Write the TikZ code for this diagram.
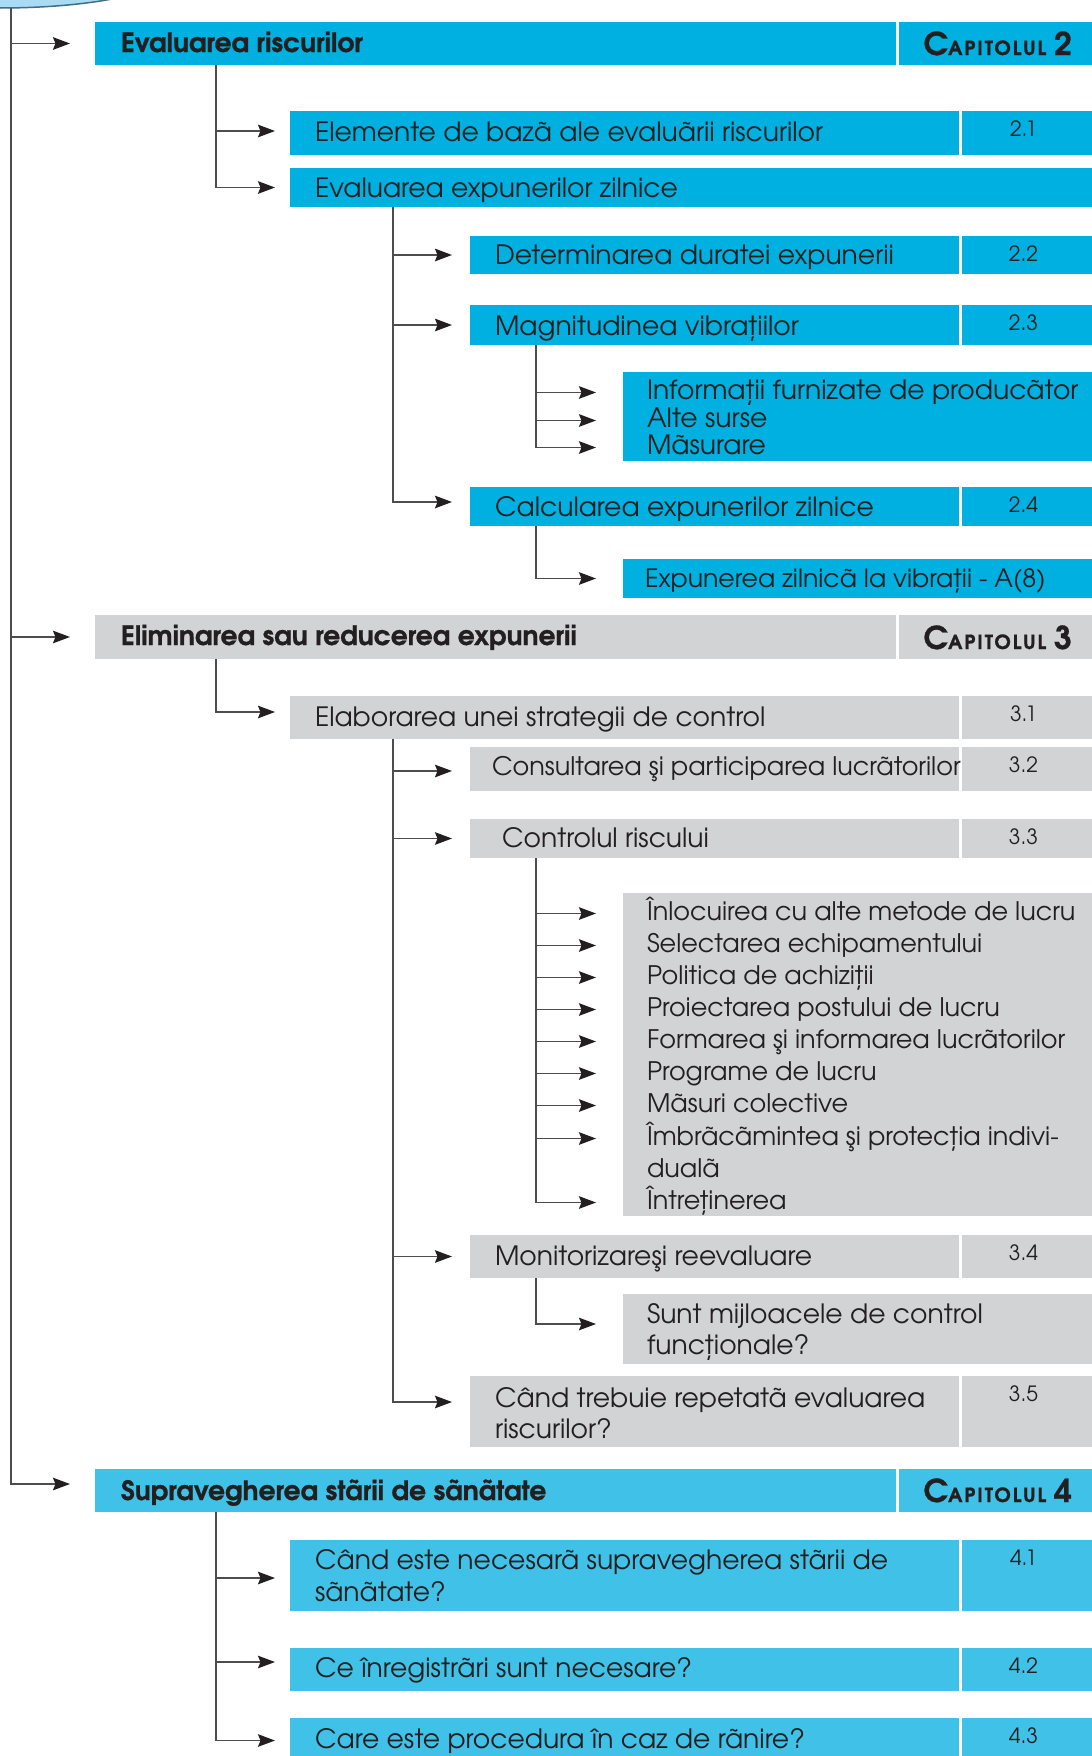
\documentclass[tikz,border=0pt]{standalone}
\usepackage{fontspec}
\setmainfont{texgyreadventor}[Extension=.otf,UprightFont=*-regular,BoldFont=*-bold,ItalicFont=*-italic,BoldItalicFont=*-bolditalic,BoldFeatures={FakeBold=0.8}]
\usetikzlibrary{arrows.meta}
\definecolor{cyanA}{HTML}{00B0E0}
\definecolor{cyanB}{HTML}{40C1E7}
\definecolor{grayA}{HTML}{D1D3D4}
\definecolor{ink}{HTML}{231F20}
\definecolor{linec}{HTML}{4D4D4F}
\definecolor{ellfill}{HTML}{A9DCF2}
\definecolor{elldraw}{HTML}{3F6E8C}
\newcommand\chaplabel[1]{{\bfseries\fontsize{31.5}{31.5}\selectfont C{\addfontfeature{LetterSpace=10}\fontsize{19.5}{19.5}\selectfont APITOLUL}\hspace{8pt}\fontsize{31.5}{31.5}\selectfont #1}}
\begin{document}
\begin{tikzpicture}[x=1pt,y=-1pt,
  bx/.style 2 args={inner sep=0pt, outer sep=0pt, anchor=north west, minimum width=#1pt, minimum height=#2pt},
  txt/.style={inner sep=0pt, outer sep=0pt, text=ink, font=\fontsize{26.6}{31}\selectfont, anchor=base west},
  hd/.style={txt, font=\bfseries\fontsize{26.6}{31}\selectfont},
  lst/.style={txt, font=\fontsize{25.5}{31}\selectfont, text height=19pt, text depth=6pt},
  num/.style={inner sep=0pt, text=ink, font=\fontsize{21}{21}\selectfont},
  chap/.style={inner sep=0pt, text=ink, anchor=base east},
  conn/.style={draw=linec, line width=1.8pt, -{Stealth[length=17pt,width=12.5pt,inset=2.5pt,color=ink]}},
]
\useasboundingbox (0,0) rectangle (1092,1756);
\fill[white] (0,0) rectangle (1092,1756);
% top ellipse fragment
\fill[ellfill] (0,0) -- (0,8) .. controls (40,8) and (80,5) .. (112,-1) -- cycle;
\draw[elldraw, line width=1.5pt] (0,8) .. controls (40,8) and (80,5) .. (112,-1);

% ---------- boxes ----------
% section 1
\node[bx={801}{43}, fill=cyanA] (r1) at (95,22) {};
\node[bx={193}{43}, fill=cyanA] (c1) at (899,22) {};
\node[bx={669}{44}, fill=cyanA] (r2) at (290,111) {};
\node[bx={131}{44}, fill=cyanA] (nb2) at (962,111) {};
\node[bx={810}{39}, fill=cyanA] (r3) at (290,168) {};
\node[bx={489}{38}, fill=cyanA] (r4) at (470,236) {};
\node[bx={131}{38}, fill=cyanA] (nb4) at (962,236) {};
\node[bx={489}{40}, fill=cyanA] (r5) at (470,305) {};
\node[bx={131}{40}, fill=cyanA] (nb5) at (962,305) {};
\node[bx={480}{89}, fill=cyanA] (r6) at (623,372) {};
\node[bx={489}{39}, fill=cyanA] (r7) at (470,487) {};
\node[bx={131}{39}, fill=cyanA] (nb7) at (962,487) {};
\node[bx={480}{39}, fill=cyanA] (r8) at (623,559) {};
% section 2
\node[bx={801}{44}, fill=grayA] (r9) at (95,615) {};
\node[bx={193}{44}, fill=grayA] (c9) at (899,615) {};
\node[bx={669}{43}, fill=grayA] (r10) at (290,696) {};
\node[bx={131}{43}, fill=grayA] (nb10) at (962,696) {};
\node[bx={489}{44}, fill=grayA] (r11) at (470,747) {};
\node[bx={131}{44}, fill=grayA] (nb11) at (962,747) {};
\node[bx={489}{39}, fill=grayA] (r12) at (470,819) {};
\node[bx={131}{39}, fill=grayA] (nb12) at (962,819) {};
\node[bx={480}{323}, fill=grayA] (r13) at (623,893) {};
\node[bx={489}{43}, fill=grayA] (r14) at (470,1235) {};
\node[bx={131}{43}, fill=grayA] (nb14) at (962,1235) {};
\node[bx={480}{70}, fill=grayA] (r15) at (623,1294) {};
\node[bx={489}{71}, fill=grayA] (r16) at (470,1376) {};
\node[bx={131}{71}, fill=grayA] (nb16) at (962,1376) {};
% section 3
\node[bx={801}{43}, fill=cyanB] (r17) at (95,1469) {};
\node[bx={193}{43}, fill=cyanB] (c17) at (899,1469) {};
\node[bx={669}{71}, fill=cyanB] (r18) at (290,1540) {};
\node[bx={131}{71}, fill=cyanB] (nb18) at (962,1540) {};
\node[bx={669}{43}, fill=cyanB] (r19) at (290,1648) {};
\node[bx={131}{43}, fill=cyanB] (nb19) at (962,1648) {};
\node[bx={669}{45}, fill=cyanB] (r20) at (290,1718) {};
\node[bx={131}{45}, fill=cyanB] (nb20) at (962,1718) {};

% ---------- texts ----------
\node[hd] (t1) at (121,52) {Evaluarea riscurilor};
\node[chap] (k1) at ([xshift=-20pt,yshift=10pt]c1.south east) {\chaplabel{2}};
\node[txt] (t2) at (315,141) {Elemente de bazã ale evaluãrii riscurilor};
\node[txt] (t3) at (315,197) {Evaluarea expunerilor zilnice};
\node[txt] (t4) at (495,264) {Determinarea duratei expunerii};
\node[txt] (t5) at (495,335) {Magnitudinea vibrațiilor};
\node[lst, font=\fontsize{26.6}{31}\selectfont] (i1) at (647,399) {Informații furnizate de producãtor};
\node[lst, font=\fontsize{26.6}{31}\selectfont] (i2) at (647,427) {Alte surse};
\node[lst, font=\fontsize{26.6}{31}\selectfont] (i3) at (647,454) {Mãsurare};
\node[txt] (t7) at (495,516) {Calcularea expunerilor zilnice};
\node[txt, font=\fontsize{25.2}{31}\selectfont] (t8) at (645,587) {Expunerea zilnicã la vibrații - A(8)};

\node[hd] (t9) at (121,645) {Eliminarea sau reducerea expunerii};
\node[chap] (k9) at ([xshift=-20pt,yshift=10pt]c9.south east) {\chaplabel{3}};
\node[txt] (t10) at (315,726) {Elaborarea unei strategii de control};
\node[txt, font=\fontsize{25.5}{31}\selectfont] (t11) at (492,775) {Consultarea şi participarea lucrãtorilor};
\node[txt] (t12) at (502,847) {Controlul riscului};
\node[lst] (m1) at (647,920) {Înlocuirea cu alte metode de lucru};
\node[lst] (m2) at (647,952) {Selectarea echipamentului};
\node[lst] (m3) at (647,984) {Politica de achiziții};
\node[lst] (m4) at (647,1016) {Proiectarea postului de lucru};
\node[lst] (m5) at (647,1048) {Formarea şi informarea lucrãtorilor};
\node[lst] (m6) at (647,1080) {Programe de lucru};
\node[lst] (m7) at (647,1112) {Mãsuri colective};
\node[lst] (m8) at (647,1145) {Îmbrãcãmintea şi protecția indivi-};
\node[lst] (m9) at (647,1177) {dualã};
\node[lst] (m10) at (647,1209) {Întreținerea};
\node[txt] (t14) at (495,1265) {Monitorizareşi reevaluare};
\node[txt] (u1) at (647,1323) {Sunt mijloacele de control};
\node[txt] (u2) at (647,1354) {funcționale?};
\node[txt] (v1) at (495,1407) {Când trebuie repetatã evaluarea};
\node[txt] (v2) at (495,1438) {riscurilor?};

\node[hd] (t17) at (121,1500) {Supravegherea stãrii de sãnãtate};
\node[chap] (k17) at ([xshift=-20pt,yshift=10pt]c17.south east) {\chaplabel{4}};
\node[txt] (w1) at (315,1569) {Când este necesarã supravegherea stãrii de};
\node[txt] (w2) at (315,1601) {sãnãtate?};
\node[txt] (t19) at (315,1677) {Ce înregistrãri sunt necesare?};
\node[txt] (t20) at (315,1748) {Care este procedura în caz de rãnire?};

% numbers
\node[num] at ([xshift=-4pt,yshift=-18pt]nb2.north) {2.1};
\node[num] at ([xshift=-4pt,yshift=-18pt]nb4.north) {2.2};
\node[num] at ([xshift=-4pt,yshift=-18pt]nb5.north) {2.3};
\node[num] at ([xshift=-4pt,yshift=-18pt]nb7.north) {2.4};
\node[num] at ([xshift=-4pt,yshift=-18pt]nb10.north) {3.1};
\node[num] at ([xshift=-4pt,yshift=-18pt]nb11.north) {3.2};
\node[num] at ([xshift=-4pt,yshift=-18pt]nb12.north) {3.3};
\node[num] at ([xshift=-4pt,yshift=-18pt]nb14.north) {3.4};
\node[num] at ([xshift=-4pt,yshift=-18pt]nb16.north) {3.5};
\node[num] at ([xshift=-4pt,yshift=-18pt]nb18.north) {4.1};
\node[num] at ([xshift=-4pt,yshift=-18pt]nb19.north) {4.2};
\node[num] at ([xshift=-4pt,yshift=-18pt]nb20.north) {4.3};

% ---------- connectors ----------
\coordinate (s0) at (11,8);
\draw[conn, shorten >=25pt] (s0) |- (r1.west);
\draw[conn, shorten >=25pt] (s0) |- (r9.west);
\draw[conn, shorten >=25pt] (s0) |- ([yshift=6.5pt]r17.west);

\coordinate (s1) at ([xshift=121pt]r1.south west);
\draw[conn, shorten >=15pt] (s1) |- ([yshift=2pt]r2.west);
\draw[conn, shorten >=15pt] (s1) |- (r3.west);

\coordinate (s3) at ([xshift=103pt]r3.south west);
\draw[conn, shorten >=18pt] (s3) |- (r4.west);
\draw[conn, shorten >=18pt] (s3) |- (r5.west);
\draw[conn, shorten >=18pt] (s3) |- ([yshift=4.5pt]r7.west);

\coordinate (s5) at ([xshift=66pt]r5.south west);
\draw[conn, shorten >=51pt] (s5) |- (i1.west);
\draw[conn, shorten >=51pt] (s5) |- (i2.west);
\draw[conn, shorten >=51pt] (s5) |- (i3.west);

\coordinate (s7) at ([xshift=66pt]r7.south west);
\draw[conn, shorten >=27pt] (s7) |- (r8.west);

\coordinate (s9) at ([xshift=121pt]r9.south west);
\draw[conn, shorten >=15pt] (s9) |- ([yshift=5.5pt]r10.west);

\coordinate (s10) at ([xshift=103pt]r10.south west);
\draw[conn, shorten >=18pt] (s10) |- ([yshift=-2pt]r11.west);
\draw[conn, shorten >=18pt] (s10) |- (r12.west);
\draw[conn, shorten >=18pt] (s10) |- (r14.west);
\draw[conn, shorten >=18pt] (s10) |- ([yshift=9.5pt]r16.west);

\coordinate (s12) at ([xshift=66pt]r12.south west);
\foreach \m in {m1,m2,m3,m4,m5,m6,m7,m8,m10}
  \draw[conn, shorten >=51pt] (s12) |- (\m.west);

\coordinate (s14) at ([xshift=66pt]r14.south west);
\draw[conn, shorten >=27pt] (s14) |- ([yshift=5pt]r15.west);

\coordinate (s17) at ([xshift=121pt]r17.south west);
\draw[conn, shorten >=15pt] (s17) |- ([yshift=-2.5pt]r18.west);
\draw[conn, shorten >=15pt] (s17) |- ([yshift=7.5pt]r19.west);
\draw[conn, shorten >=15pt] (s17) |- (r20.west);
\end{tikzpicture}
\end{document}
